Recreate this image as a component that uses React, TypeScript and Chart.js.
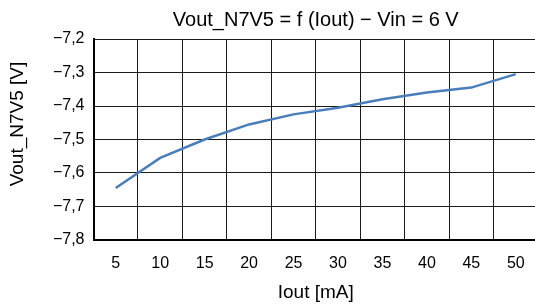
import React, { useEffect, useRef } from "react";
import { Chart, registerables } from "chart.js";

Chart.register(...registerables);

const categories = ["5", "10", "15", "20", "25", "30", "35", "40", "45", "50"];
const voutValues = [-7.645, -7.555, -7.5, -7.455, -7.425, -7.405, -7.38, -7.36, -7.345, -7.305];
const yTickValues = [-7.8, -7.7, -7.6, -7.5, -7.4, -7.3, -7.2];
const titleText = "Vout_N7V5 = f (Iout) \u2212 Vin = 6 V";
const xTitle = "Iout [mA]";
const yTitle = "Vout_N7V5 [V]";

const FONT = "'Liberation Sans', Arial, sans-serif";

function fmt(v: number): string {
  const s = Math.abs(v).toFixed(1).replace(".", ",");
  return (v < 0 ? "\u2212" : "") + s;
}

const yTitlePlugin = {
  id: "yTitlePlugin",
  afterDraw(chart: any) {
    const ctx = chart.ctx;
    ctx.save();
    ctx.translate(18, 124);
    ctx.rotate(-Math.PI / 2);
    ctx.fillStyle = "#000";
    ctx.font = `19px ${FONT}`;
    ctx.textAlign = "center";
    ctx.textBaseline = "middle";
    ctx.fillText(yTitle, 0, 0);
    ctx.restore();
  },
};

export default function App() {
  const ref = useRef<HTMLCanvasElement | null>(null);
  useEffect(() => {
    if (!ref.current) return;
    const chart = new Chart(ref.current, {
      type: "line",
      data: {
        labels: categories,
        datasets: [
          {
            data: voutValues,
            borderColor: "#4a7ebb",
            borderWidth: 2.5,
            pointRadius: 0,
            tension: 0,
            fill: false,
          },
        ],
      },
      plugins: [yTitlePlugin],
      options: {
        responsive: false,
        animation: false,
        layout: { padding: { left: 0, right: 7, top: 0, bottom: 0 } },
        plugins: {
          legend: { display: false },
          tooltip: { enabled: false },
          title: {
            display: true,
            fullSize: false,
            text: titleText,
            color: "#000",
            font: { family: FONT, size: 20, weight: "normal" },
            padding: { top: 8, bottom: 7 },
          },
        },
        scales: {
          x: {
            type: "category",
            offset: true,
            grid: { offset: true, color: "#1a1a1a", lineWidth: 1, drawTicks: false },
            border: { color: "#000", width: 2 },
            ticks: {
              color: "#000",
              font: { family: FONT, size: 16 },
              padding: 14,
              maxRotation: 0,
            },
            title: {
              display: true,
              text: xTitle,
              color: "#000",
              font: { family: FONT, size: 19 },
              padding: { top: 4, bottom: 0 },
            },
            afterFit: (s: any) => {
              s.height = 64;
            },
          },
          y: {
            min: -7.8,
            max: -7.2,
            afterBuildTicks: (s: any) => {
              s.ticks = yTickValues.map((v) => ({ value: v }));
            },
            grid: { color: "#1a1a1a", lineWidth: 1, drawTicks: false },
            border: { color: "#000", width: 2 },
            ticks: {
              color: "#000",
              font: { family: FONT, size: 16 },
              padding: 9,
              callback: (v: any) => fmt(Number(v)),
            },
            afterFit: (s: any) => {
              s.width = 93.5;
            },
          },
        },
      },
    });
    return () => chart.destroy();
  }, []);
  return (
    <div style={{ position: "fixed", left: 0, top: 0, width: 535, height: 304, overflow: "hidden", background: "#fff" }}>
      <canvas ref={ref} width={545} height={304} style={{ display: "block" }} />
    </div>
  );
}
